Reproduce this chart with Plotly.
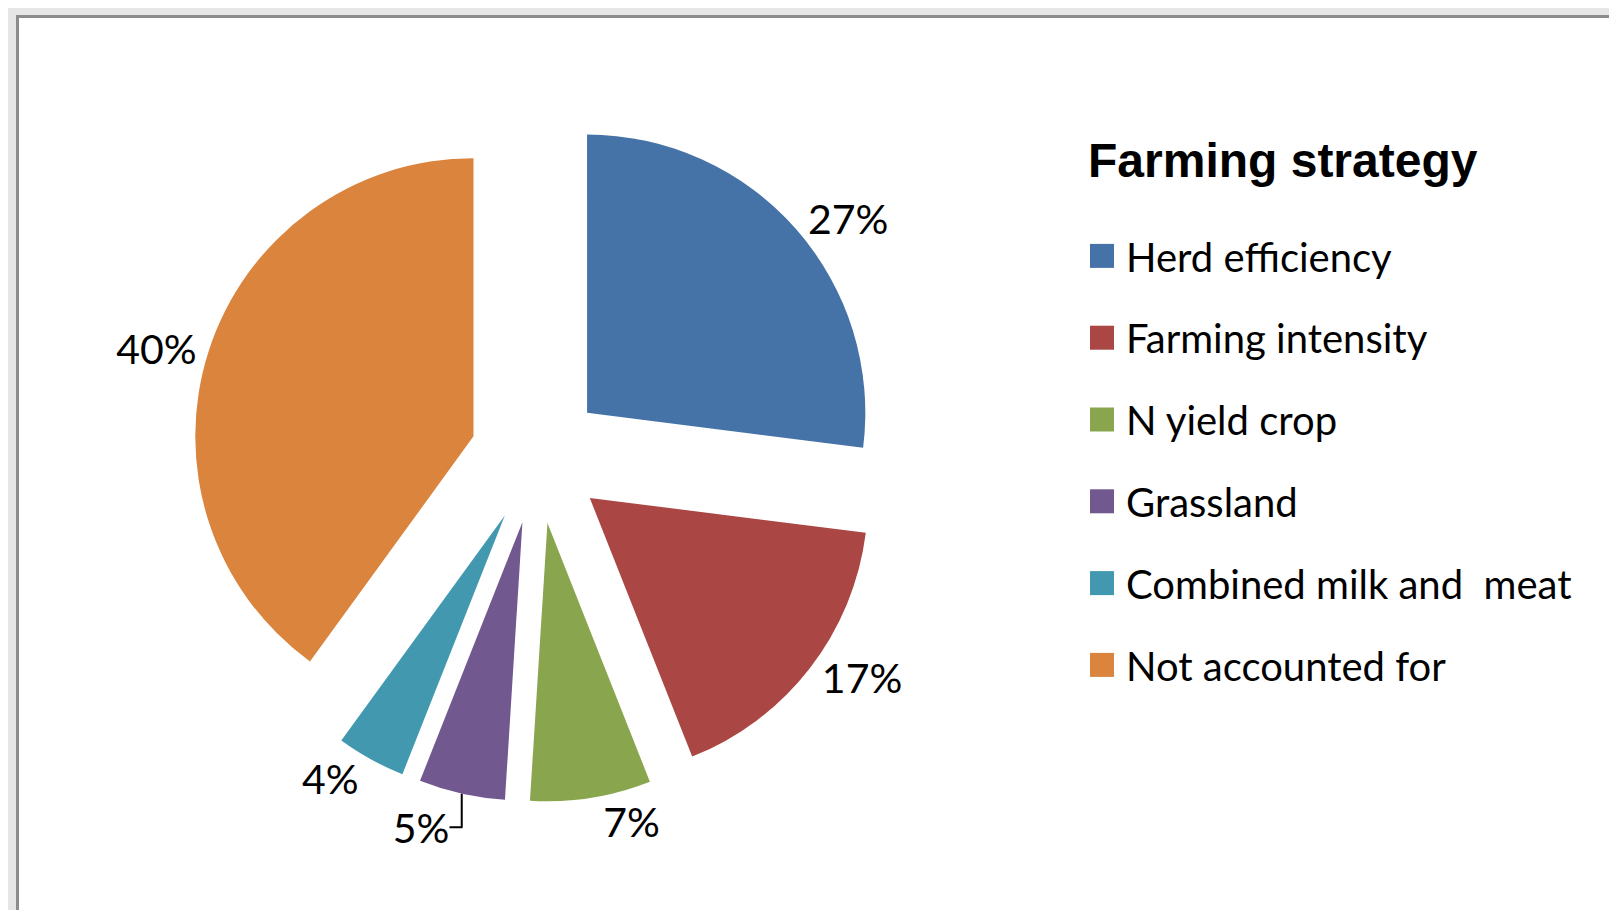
import plotly.graph_objects as go

# Farming strategy shares (%)
strategies = [
    "Herd efficiency", "Farming intensity", "N yield crop",
    "Grassland", "Combined milk and  meat", "Not accounted for",
]
shares = [27, 17, 7, 5, 4, 40]
colors = ["#4572A7", "#AA4643", "#89A54E", "#71588F", "#4198AF", "#DB843D"]

W, H = 1617, 910

fig = go.Figure(go.Pie(
    labels=strategies,
    values=shares,
    sort=False,
    direction="clockwise",
    rotation=0,
    pull=[0.24] * len(shares),
    marker=dict(colors=colors, line=dict(width=0)),
    textinfo="percent",
    textposition="outside",
    textfont=dict(family="Lato, Calibri, sans-serif", size=41, color="black"),
    domain=dict(x=[184 / W, 874 / W], y=[116 / H, 806 / H]),
    hoverinfo="label+percent",
))

# white chart area with grey frame on the grey page
fig.add_shape(
    type="rect", xref="paper", yref="paper",
    x0=9.5 / W, x1=1.05, y0=-0.05, y1=1 - 8.5 / H,
    fillcolor="white", line=dict(color="#8c8c8c", width=3), layer="below",
)

fig.update_layout(
    width=W, height=H,
    margin=dict(l=0, r=0, t=0, b=0, autoexpand=False),
    paper_bgcolor="#e6e6e6",
    plot_bgcolor="white",
    showlegend=True,
    legend=dict(
        x=1078 / W, xanchor="left",
        y=1 - 107 / H, yanchor="top",
        bgcolor="rgba(0,0,0,0)",
        font=dict(family="Lato, Calibri, sans-serif", size=40, color="black"),
        title=dict(
            text="<b>Farming strategy</b>",
            font=dict(family="Liberation Sans, Arial, sans-serif", size=48, color="black"),
        ),
    ),
)

# Excel-style legend: bigger swatches, gap under the title and wider row spacing
post = """
var gd = document.getElementById('{plot_id}');
function fixLegend() {
  var sb = gd.querySelector('.legend .scrollbox');
  if (sb) sb.removeAttribute('clip-path');
  var items = gd.querySelectorAll('.legend .traces');
  if (!items.length) return;
  var first = items[0];
  if (first.getAttribute('data-y0') === null) {
    var m = /translate\\(([-\\d.]+),\\s*([-\\d.]+)\\)/.exec(first.getAttribute('transform') || '');
    if (!m) return;
    first.setAttribute('data-x0', m[1]);
    first.setAttribute('data-y0', m[2]);
  }
  var x0 = parseFloat(first.getAttribute('data-x0'));
  var y0 = parseFloat(first.getAttribute('data-y0')) + 46;
  items.forEach(function (el, i) {
    el.setAttribute('transform', 'translate(' + x0 + ',' + (y0 + i * 81.8) + ')');
    el.querySelectorAll('.legendpoints path').forEach(function (p) {
      p.setAttribute('transform', 'translate(16,0) scale(2)');
    });
  });
}
fixLegend();
gd.on('plotly_afterplot', fixLegend);
"""

fig.write_html("out.html", post_script=post)
